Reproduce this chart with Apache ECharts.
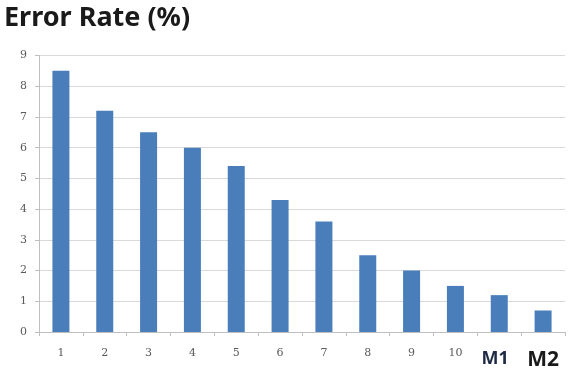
<!DOCTYPE html>
<html>
<head>
<meta charset="utf-8">
<script src="https://cdn.jsdelivr.net/npm/echarts@6/dist/echarts.min.js"></script>
<style>
  html, body { margin: 0; padding: 0; background: #fff; }
  #chart { width: 569px; height: 388px; }
</style>
</head>
<body>
<div id="chart"></div>
<script>
const categories = ['1', '2', '3', '4', '5', '6', '7', '8', '9', '10', 'M1', 'M2']
const errorRates = [8.5, 7.2, 6.5, 6.0, 5.4, 4.3, 3.6, 2.5, 2.0, 1.5, 1.2, 0.7]

const chart = echarts.init(document.getElementById('chart'))

chart.setOption({
  animation: false,
  title: {
    text: 'Error Rate (%)',
    left: -1,
    top: 0,
    textStyle: {
      fontFamily: 'Noto Sans',
      fontSize: 27,
      fontWeight: 'bold',
      color: '#1a1a1a',
    },
  },
  grid: { left: 39, right: 4, top: 55.5, bottom: 56 },
  xAxis: {
    type: 'category',
    data: categories,
    axisLine: { lineStyle: { color: '#bfbfbf' } },
    axisTick: { show: true, length: 4, lineStyle: { color: '#bfbfbf' } },
    axisLabel: {
      interval: 0,
      margin: 16,
      fontFamily: 'DejaVu Serif',
      fontSize: 11,
      color: '#595959',
      formatter(v) {
        if (v === 'M1') return '{m1|M1}'
        if (v === 'M2') return '{m2|M2}'
        return v
      },
      rich: {
        m1: { fontFamily: 'Noto Sans', fontWeight: 'bold', fontSize: 18, color: '#1f2a44', padding: [2, 8, 0, 0] },
        m2: { fontFamily: 'Noto Sans', fontWeight: 'bold', fontSize: 21, color: '#1a1a1a', padding: [2, 0, 0, 0] },
      },
    },
  },
  yAxis: {
    type: 'value',
    min: 0,
    max: 9,
    interval: 1,
    axisLine: { show: true, lineStyle: { color: '#bfbfbf' } },
    axisTick: { show: true, length: 4, lineStyle: { color: '#bfbfbf' } },
    axisLabel: {
      margin: 12,
      fontFamily: 'DejaVu Serif',
      fontSize: 11,
      color: '#595959',
    },
    splitLine: { lineStyle: { color: '#d9d9d9' } },
  },
  series: [
    {
      type: 'bar',
      data: errorRates,
      barWidth: 17,
      itemStyle: { color: '#4a7ebb' },
    },
  ],
})
</script>
</body>
</html>
